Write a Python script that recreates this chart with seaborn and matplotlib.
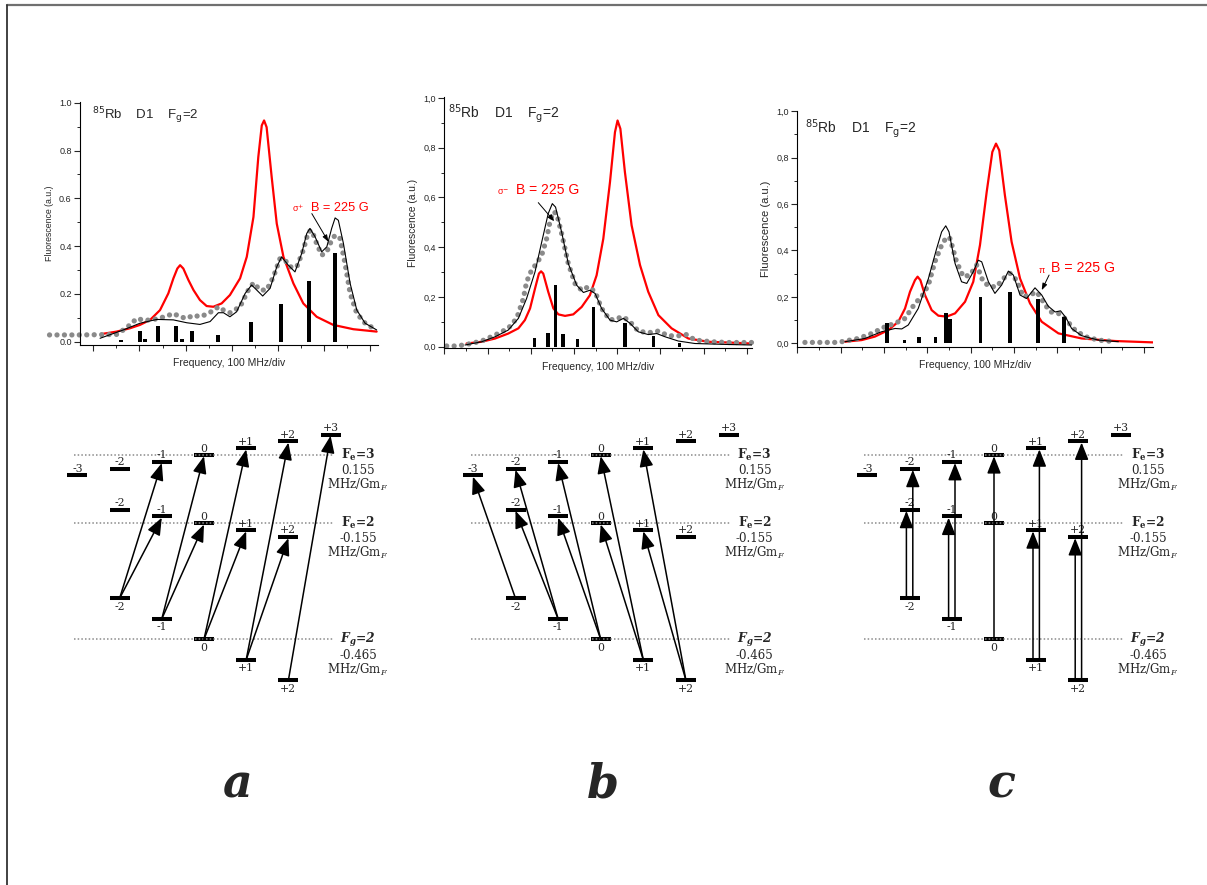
import matplotlib
matplotlib.use('Agg')
import matplotlib.pyplot as plt
import seaborn as sns
from matplotlib.ticker import MultipleLocator, FuncFormatter
from matplotlib.patches import FancyArrowPatch

sns.set_style('ticks')
plt.rcParams['font.family'] = ['Liberation Sans', 'DejaVu Sans']

# ---- spectra: x in tick divisions (100 MHz/div), y fluorescence (a.u.) ----
# panel a, sigma+
a_red_x = [0.36, 1.01, 1.59, 2.02, 2.46, 2.89, 3.25, 3.47, 3.64, 3.76, 3.90, 4.12, 4.34, 4.62, 4.91, 5.20, 5.56,
           5.92, 6.36, 6.65, 6.94, 7.15, 7.30, 7.40, 7.51, 7.73, 7.95, 8.24, 8.67, 9.10, 9.68, 10.40, 11.27, 12.28]
a_red_y = [0.032, 0.042, 0.056, 0.070, 0.091, 0.132, 0.202, 0.265, 0.306, 0.320, 0.306, 0.258, 0.216, 0.174, 0.149,
           0.146, 0.160, 0.195, 0.265, 0.355, 0.522, 0.773, 0.905, 0.926, 0.898, 0.689, 0.494, 0.355, 0.244, 0.160,
           0.104, 0.070, 0.052, 0.042]
a_fit_x = [0.29, 1.30, 2.02, 2.75, 3.47, 4.05, 4.62, 5.06, 5.42, 5.64, 5.92, 6.21, 6.58, 6.86, 7.08, 7.34, 7.66,
           7.95, 8.16, 8.45, 8.74, 9.03, 9.25, 9.39, 9.61, 9.90, 10.12, 10.33, 10.48, 10.62, 10.84, 11.13, 11.42,
           11.78, 12.28]
a_fit_y = [0.014, 0.049, 0.077, 0.093, 0.091, 0.079, 0.072, 0.084, 0.121, 0.121, 0.104, 0.125, 0.202, 0.237, 0.216,
           0.191, 0.223, 0.313, 0.355, 0.320, 0.292, 0.369, 0.453, 0.474, 0.439, 0.376, 0.397, 0.474, 0.518, 0.508,
           0.411, 0.244, 0.132, 0.077, 0.049]
a_exp_x = [-1.9, -0.6, 1.0, 1.30, 1.59, 1.88, 2.17, 2.46, 2.82, 3.18, 3.47, 3.76, 4.05, 4.34, 4.62, 4.91, 5.20, 5.42,
           5.64, 5.92, 6.36, 6.72, 6.94, 7.23, 7.51, 7.80, 8.09, 8.31, 8.53, 8.82, 9.10, 9.32, 9.47, 9.68, 9.90,
           10.12, 10.33, 10.48, 10.69, 10.91, 11.13, 11.42, 11.78, 12.14]
a_exp_y = [0.028, 0.028, 0.030, 0.049, 0.070, 0.097, 0.090, 0.090, 0.097, 0.107, 0.118, 0.104, 0.097, 0.111, 0.104,
           0.115, 0.130, 0.146, 0.132, 0.121, 0.146, 0.216, 0.246, 0.216, 0.216, 0.270, 0.348, 0.341, 0.313, 0.313,
           0.383, 0.460, 0.466, 0.410, 0.362, 0.376, 0.425, 0.446, 0.432, 0.327, 0.202, 0.118, 0.077, 0.056]
a_bar_x = [1.20, 2.02, 2.24, 2.82, 3.57, 3.83, 4.28, 5.42, 6.84, 8.15, 9.36, 10.48]
a_bar_h = [0.008, 0.046, 0.010, 0.067, 0.065, 0.010, 0.043, 0.028, 0.081, 0.157, 0.255, 0.369]

# panel b, sigma-
b_red_x = [1.03, 1.73, 2.35, 2.96, 3.43, 3.73, 3.97, 4.20, 4.38, 4.48, 4.58, 4.81, 5.05, 5.28, 5.59, 5.97, 6.36,
           6.74, 7.05, 7.36, 7.67, 7.90, 8.02, 8.15, 8.36, 8.67, 9.06, 9.44, 9.91, 10.52, 11.30, 12.22, 13.15, 14.23]
b_red_y = [0.013, 0.020, 0.033, 0.053, 0.074, 0.107, 0.154, 0.234, 0.294, 0.303, 0.294, 0.221, 0.154, 0.130, 0.124,
           0.130, 0.160, 0.207, 0.287, 0.434, 0.662, 0.862, 0.909, 0.876, 0.702, 0.488, 0.328, 0.221, 0.127, 0.074,
           0.033, 0.020, 0.017, 0.013]
b_fit_x = [0.96, 1.73, 2.35, 2.96, 3.43, 3.81, 4.20, 4.51, 4.81, 5.00, 5.15, 5.43, 5.74, 6.13, 6.44, 6.74, 6.98,
           7.28, 7.67, 7.98, 8.29, 8.60, 8.98, 9.44, 9.83, 10.22, 10.83, 11.60, 13.15, 14.23]
b_fit_y = [0.007, 0.020, 0.040, 0.067, 0.114, 0.194, 0.301, 0.421, 0.535, 0.575, 0.561, 0.461, 0.334, 0.247, 0.218,
           0.227, 0.214, 0.154, 0.107, 0.100, 0.114, 0.094, 0.060, 0.049, 0.053, 0.040, 0.023, 0.013, 0.009, 0.007]
b_exp_x = [0.11, 0.57, 1.03, 1.73, 2.35, 2.96, 3.35, 3.66, 3.81, 4.04, 4.27, 4.51, 4.74, 4.89, 5.05, 5.20, 5.43,
           5.74, 6.05, 6.36, 6.67, 6.98, 7.28, 7.67, 7.98, 8.29, 8.60, 8.98, 9.44, 9.91, 10.37, 10.83, 11.22, 11.60,
           12.38, 13.15, 14.23]
b_exp_y = [0.003, 0.003, 0.009, 0.023, 0.047, 0.074, 0.114, 0.194, 0.261, 0.308, 0.334, 0.368, 0.435, 0.502, 0.542,
           0.535, 0.455, 0.334, 0.254, 0.227, 0.241, 0.221, 0.154, 0.107, 0.114, 0.120, 0.100, 0.063, 0.056, 0.063,
           0.044, 0.044, 0.049, 0.027, 0.020, 0.017, 0.017]
b_bar_x = [4.17, 4.81, 5.15, 5.51, 6.17, 6.90, 8.36, 9.68, 10.88]
b_bar_h = [0.037, 0.056, 0.247, 0.053, 0.033, 0.160, 0.094, 0.044, 0.016]

# panel c, pi
c_red_x = [2.20, 2.97, 3.58, 4.20, 4.66, 4.97, 5.20, 5.43, 5.55, 5.68, 5.89, 6.20, 6.51, 6.89, 7.28, 7.74, 8.12,
           8.43, 8.74, 9.00, 9.17, 9.32, 9.58, 9.89, 10.28, 10.74, 11.28, 12.05, 13.12, 14.66, 16.43]
c_red_y = [0.007, 0.014, 0.029, 0.057, 0.093, 0.150, 0.222, 0.272, 0.287, 0.272, 0.208, 0.143, 0.119, 0.115, 0.129,
           0.179, 0.265, 0.423, 0.652, 0.824, 0.860, 0.831, 0.638, 0.437, 0.279, 0.172, 0.093, 0.043, 0.021, 0.010,
           0.004]
c_fit_x = [2.20, 3.12, 3.89, 4.51, 4.82, 5.12, 5.58, 6.05, 6.43, 6.66, 6.85, 7.00, 7.28, 7.58, 7.82, 8.12, 8.35,
           8.51, 8.82, 9.12, 9.43, 9.74, 9.97, 10.28, 10.58, 10.97, 11.28, 11.58, 11.90, 12.15, 12.40, 12.66, 13.12,
           13.89, 14.82]
c_fit_y = [0.007, 0.021, 0.050, 0.064, 0.062, 0.079, 0.150, 0.279, 0.408, 0.480, 0.506, 0.480, 0.344, 0.265, 0.258,
           0.308, 0.358, 0.351, 0.265, 0.215, 0.251, 0.311, 0.294, 0.208, 0.193, 0.239, 0.208, 0.160, 0.135, 0.140,
           0.110, 0.064, 0.033, 0.014, 0.007]
c_exp_x = [0.35, 0.66, 0.97, 1.28, 1.58, 1.89, 2.20, 2.82, 3.45, 4.06, 4.51, 4.97, 5.43, 5.74, 6.05, 6.35, 6.66,
           6.89, 7.05, 7.35, 7.66, 7.97, 8.28, 8.58, 8.89, 9.20, 9.51, 9.82, 10.12, 10.43, 10.74, 11.05, 11.35, 11.66,
           12.05, 12.35, 12.82, 13.28, 13.89, 14.66]
c_exp_y = [0.004, 0.004, 0.004, 0.004, 0.004, 0.004, 0.010, 0.021, 0.043, 0.072, 0.086, 0.107, 0.172, 0.201, 0.251,
           0.351, 0.423, 0.458, 0.451, 0.351, 0.287, 0.294, 0.337, 0.265, 0.244, 0.244, 0.279, 0.301, 0.272, 0.201,
           0.208, 0.222, 0.179, 0.136, 0.129, 0.107, 0.057, 0.029, 0.014, 0.007]
c_bar_x = [4.15, 4.94, 5.63, 6.37, 6.86, 7.06, 8.45, 9.83, 11.12, 12.32]
c_bar_h = [0.089, 0.014, 0.029, 0.026, 0.132, 0.105, 0.201, 0.222, 0.191, 0.115]

pol_symbols = ['σ$^{+}$', 'σ$^{-}$', 'π']

# ---- level diagrams ----
g_e3, g_e2, g_g2 = 0.155, -0.155, -0.465       # MHz/G per mF
e3_m = [-3, -2, -1, 0, 1, 2, 3]
e2_m = [-2, -1, 0, 1, 2]
g2_m = [-2, -1, 0, 1, 2]
panel_dm = [1, -1, 0]
# (ground mF, excited F) for every drawn transition
trans_a = [(-2, 3), (-2, 2), (-1, 3), (-1, 2), (0, 3), (0, 2), (1, 3), (1, 2), (2, 3)]
trans_b = [(-2, 3), (-1, 3), (-1, 2), (0, 3), (0, 2), (1, 3), (1, 2), (2, 3), (2, 2)]
trans_c = [(-2, 3), (-2, 2), (-1, 3), (-1, 2), (0, 3), (1, 3), (1, 2), (2, 3), (2, 2)]
panel_letters = ['a', 'b', 'c']

fig = plt.figure(figsize=(12.07, 8.85), dpi=100)
canvas = fig.add_axes([0, 0, 1, 1])
canvas.set_xlim(0, 1207)
canvas.set_ylim(885, 0)
canvas.axis('off')

# frame lines of the original page
canvas.plot([7, 1207], [5, 5], color='#707070', lw=1.6, clip_on=False)
canvas.plot([7, 7], [5, 885], color='#333333', lw=1.3, clip_on=False)


def comma_fmt(v, pos):
    return f'{v:.1f}'.replace('.', ',')


boxes = [[0.0663, 0.6102, 0.2469, 0.2742], [0.3681, 0.6064, 0.2547, 0.2836], [0.6606, 0.6083, 0.2949, 0.2667]]
xlims = [(-0.578, 12.34), (0, 14.23), (0, 16.43)]
ylims = [(-0.014, 1.002), (-0.0064, 1.002), (-0.0143, 1.002)]
spectra = [(a_red_x, a_red_y, a_fit_x, a_fit_y, a_exp_x, a_exp_y, a_bar_x, a_bar_h),
           (b_red_x, b_red_y, b_fit_x, b_fit_y, b_exp_x, b_exp_y, b_bar_x, b_bar_h),
           (c_red_x, c_red_y, c_fit_x, c_fit_y, c_exp_x, c_exp_y, c_bar_x, c_bar_h)]
title_pos = [(-0.07, 0.933, 9.5), (0.185, 0.92, 10), (0.354, 0.907, 10)]
ylabel_size = [6.3, 7.4, 8.0]
pol_pos = [(8.6, 0.543, 9.2), (2.42, 0.608, 10.0), (11.12, 0.301, 10.2)]
pol_arrow = [((9.47, 0.536), (10.19, 0.418)), ((4.35, 0.579), (5.09, 0.504)), ((11.62, 0.294), (11.28, 0.229))]

for i, (rx, ry, fx, fy, ex, ey, bx, bh) in enumerate(spectra):
    ax = fig.add_axes(boxes[i])
    ax.plot(ex, ey, color='#8a8a8a', lw=3.8, linestyle=(0, (0.01, 1.4)), dash_capstyle='round',
            clip_on=False, zorder=2)
    sns.lineplot(x=rx, y=ry, color='#ff0000', linewidth=1.6, ax=ax, sort=False, estimator=None, zorder=1)
    sns.lineplot(x=fx, y=fy, color='black', linewidth=0.8, ax=ax, sort=False, estimator=None, zorder=3)
    ax.bar(bx, bh, width=0.17, color='black', linewidth=0, zorder=4)
    ax.set_xlim(*xlims[i])
    ax.set_ylim(*ylims[i])
    for s in ('top', 'right'):
        ax.spines[s].set_visible(False)
    for s in ('left', 'bottom'):
        ax.spines[s].set_linewidth(0.8)
        ax.spines[s].set_color('black')
    ax.xaxis.set_major_locator(MultipleLocator(2))
    ax.xaxis.set_minor_locator(MultipleLocator(1))
    ax.yaxis.set_major_locator(MultipleLocator(0.2))
    ax.yaxis.set_minor_locator(MultipleLocator(0.1))
    if i > 0:
        ax.yaxis.set_major_formatter(FuncFormatter(comma_fmt))
    ax.tick_params(which='major', direction='out', length=4, width=0.8, labelsize=6.5, pad=2,
                   labelbottom=False, bottom=True, left=True)
    ax.tick_params(which='minor', direction='out', length=2.2, width=0.7, bottom=True, left=True)
    ax.set_xlabel('Frequency, 100 MHz/div', fontsize=7.5, labelpad=4)
    ax.set_ylabel('Fluorescence (a.u.)', fontsize=ylabel_size[i], labelpad=4)
    tx, ty, tfs = title_pos[i]
    ax.text(tx, ty, r'$^{85}$Rb    D1    F$_{\mathrm{g}}$=2', fontsize=tfs, ha='left', va='baseline',
            math_fontfamily='dejavusans')
    px, py, pfs = pol_pos[i]
    t = ax.text(px, py, pol_symbols[i], color='#ff0000', fontsize=6.5, ha='left', va='baseline',
                math_fontfamily='dejavusans')
    ax.annotate('B = 225 G', xy=(1, 0), xycoords=t, xytext=(5, 0), textcoords='offset points',
                color='#ff0000', fontsize=pfs, ha='left', va='bottom')
    (ax0, ay0), (ax1, ay1) = pol_arrow[i]
    ax.annotate('', xy=(ax1, ay1), xytext=(ax0, ay0),
                arrowprops=dict(arrowstyle='-|>,head_length=0.5,head_width=0.18', color='black', lw=0.7,
                                mutation_scale=8, shrinkA=0, shrinkB=0))

# level diagrams drawn in page pixel coordinates
centers = [204.0, 600.7, 994.0]
steps = [42.2, 42.6, 42.2]
letter_x = [237, 603, 1001]
base_e3, base_e2, base_g2 = 455.0, 523.3, 639.3
px_per_mhz = 44.0
serif = 'DejaVu Serif'


def lvl_y(kind, m):
    if kind == 3:
        return base_e3 - px_per_mhz * g_e3 * m
    if kind == 2:
        return base_e2 - px_per_mhz * g_e2 * m
    return base_g2 - px_per_mhz * g_g2 * m


for i, trans in enumerate([trans_a, trans_b, trans_c]):
    xc, dx, dm = centers[i], steps[i], panel_dm[i]
    for kind, ms in ((3, e3_m), (2, e2_m), ('g', g2_m)):
        for m in ms:
            x, y = xc + dx * m, lvl_y(kind, m)
            canvas.hlines(y, x - 10, x + 10, color='black', lw=2.9, zorder=3)
            lab = f'{m:+d}' if m != 0 else '0'
            if kind == 'g':
                canvas.text(x, y + 3.5, lab, fontsize=7.8, family=serif, ha='center', va='top', zorder=5)
            else:
                canvas.text(x, y - 3.5, lab, fontsize=7.8, family=serif, ha='center', va='baseline', zorder=5)
    for base in (base_e3, base_e2, base_g2):
        canvas.hlines(base, xc - 130, xc + 129, color='#8a8a8a', lw=1.1, linestyles=(0, (1, 1.4)), zorder=4)
    for mg, fe in trans:
        me = mg + dm
        x0, y0 = xc + dx * mg, lvl_y('g', mg)
        x1, y1 = xc + dx * me, lvl_y(fe, me)
        if dm == 0 and mg != 0:
            off = -3.2 if fe == 2 else 3.2
            x0 += off
            x1 += off
        arr = FancyArrowPatch((x0, y0), (x1, y1 + 1.2),
                              arrowstyle='-|>,head_length=1.05,head_width=0.42', mutation_scale=10,
                              color='black', lw=1.1, shrinkA=0, shrinkB=0, zorder=6)
        canvas.add_patch(arr)
    tx = xc + 154
    canvas.text(tx, base_e3 + 3.5, r'$\mathbf{F_e}$=3', fontsize=8.8, family=serif, weight='bold',
                ha='center', va='baseline', math_fontfamily='dejavuserif')
    canvas.text(tx, base_e3 + 19, '0.155', fontsize=8.5, family=serif, ha='center', va='baseline')
    canvas.text(tx, base_e3 + 34, r'MHz/Gm$_F$', fontsize=8.5, family=serif, ha='center', va='baseline',
                math_fontfamily='dejavuserif')
    canvas.text(tx, base_e2 + 3.5, r'$\mathbf{F_e}$=2', fontsize=8.8, family=serif, weight='bold',
                ha='center', va='baseline', math_fontfamily='dejavuserif')
    canvas.text(tx, base_e2 + 19, '-0.155', fontsize=8.5, family=serif, ha='center', va='baseline')
    canvas.text(tx, base_e2 + 34, r'MHz/Gm$_F$', fontsize=8.5, family=serif, ha='center', va='baseline',
                math_fontfamily='dejavuserif')
    canvas.text(tx, base_g2 + 3.5, r'$\mathbfit{F_g}$=2', fontsize=8.8, family=serif, weight='bold',
                style='italic', ha='center', va='baseline', math_fontfamily='dejavuserif')
    canvas.text(tx, base_g2 + 20, '-0.465', fontsize=8.5, family=serif, ha='center', va='baseline')
    canvas.text(tx, base_g2 + 35, r'MHz/Gm$_F$', fontsize=8.5, family=serif, ha='center', va='baseline',
                math_fontfamily='dejavuserif')
    canvas.text(letter_x[i], 797, panel_letters[i], fontsize=33, family='DejaVu Serif', weight='bold',
                style='italic', ha='center', va='baseline')

fig.savefig('out.png', dpi=100)
